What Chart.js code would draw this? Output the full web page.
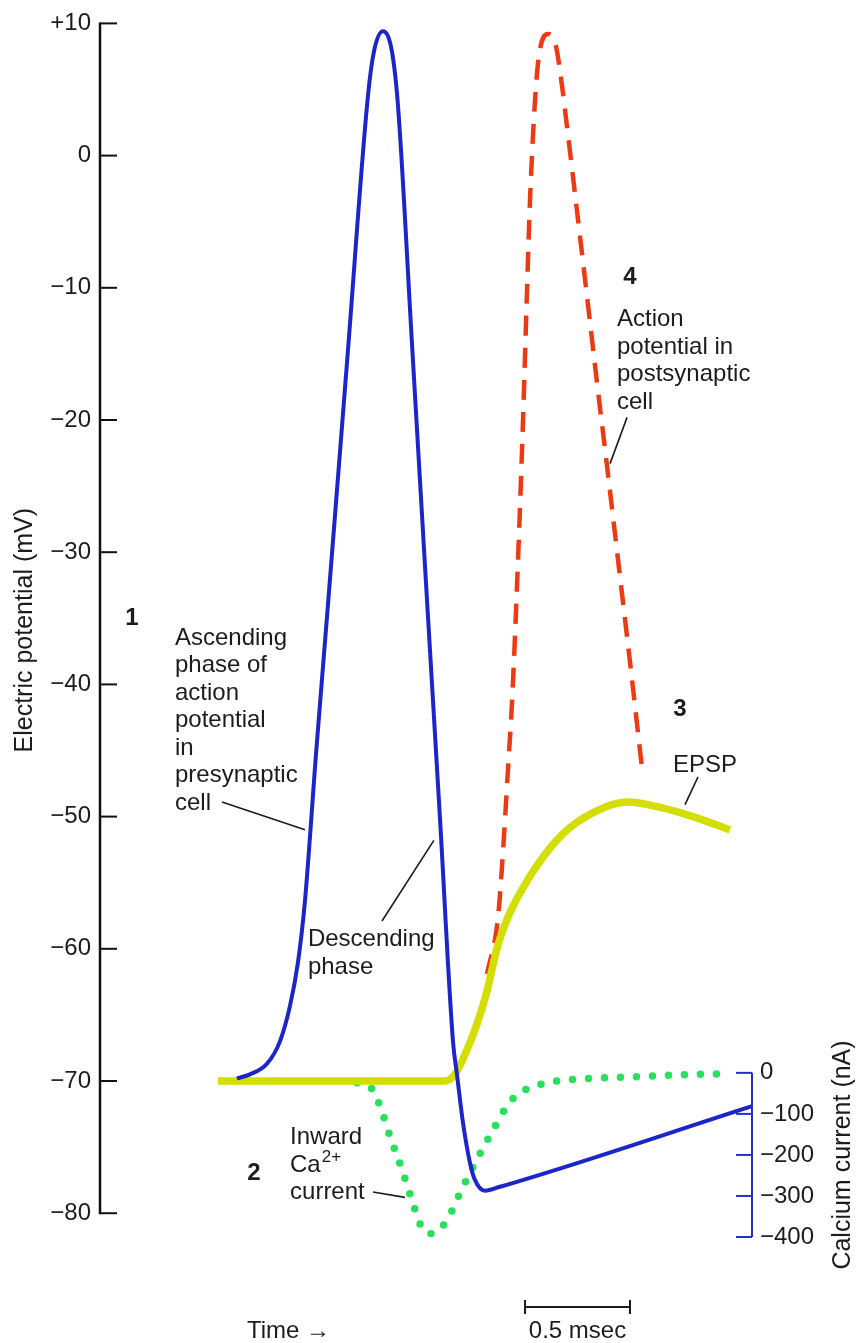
<!DOCTYPE html>
<html>
<head>
<meta charset="utf-8">
<title>Synaptic transmission</title>
<script src="https://cdn.jsdelivr.net/npm/chart.js@4.4.1/dist/chart.umd.min.js"></script>
<style>
  html, body { margin: 0; padding: 0; background: #ffffff; }
  #wrap { position: relative; width: 857px; height: 1343px; }
</style>
</head>
<body>
<div id="wrap"><canvas id="synapseChart"></canvas></div>
<script>
// time in msec, potentials in mV, calcium current in nA
const presynTime = [0.652, 0.714, 0.795, 0.857, 0.905, 0.943, 0.976, 1.029, 1.086, 1.181, 1.276, 1.305, 1.348,
                    1.390, 1.419, 1.486, 1.552, 1.619, 1.681, 1.700, 1.729, 1.762, 1.786, 1.833, 1.905, 3.105];
const presynMv = [-69.8, -69.5, -68.7, -67.0, -64.3, -61.0, -56.4, -45.2, -33.9, -14.7, 4.5, 7.9, 9.4,
                  7.9, 3.8, -14.3, -32.2, -50.1, -67.0, -69.5, -73.2, -76.2, -77.5, -78.3, -78.0, -71.9];

const epspTime = [0.562, 0.950, 1.430, 1.643, 1.690, 1.738, 1.795, 1.843, 1.890, 1.938, 1.986, 2.081, 2.205,
                  2.348, 2.510, 2.667, 2.824, 3.000];
const epspMv = [-70.0, -70.0, -70.0, -70.0, -69.5, -68.0, -65.7, -63.2, -60.0, -57.8, -56.2, -53.7, -51.3,
                -49.7, -48.9, -49.3, -50.0, -51.0];

const postsynTime = [1.843, 1.895, 1.919, 1.943, 1.962, 1.990, 2.014, 2.033, 2.048, 2.071, 2.090, 2.133,
                     2.171, 2.200, 2.224, 2.271, 2.319, 2.367, 2.414, 2.476, 2.529, 2.581];
const postsynMv = [-61.9, -57.7, -52.7, -46.4, -41.4, -30.9, -20.3, -10.5, -3.3, 4.0, 7.5, 9.2,
                   8.3, 5.3, 2.2, -4.1, -10.6, -17.2, -23.4, -31.8, -39.0, -46.3];

const calciumTime = [1.224, 1.295, 1.333, 1.381, 1.433, 1.481, 1.533, 1.567, 1.600, 1.652, 1.719, 1.790,
                     1.862, 1.933, 1.986, 2.052, 2.129, 2.286, 2.524, 2.762, 3.000];
const calciumNa = [-24, -39, -80, -155, -228, -303, -378, -392, -388, -359, -288, -216,
                   -148, -85, -53, -36, -24, -15, -10, -5, -2];

const mvTicks = [10, 0, -10, -20, -30, -40, -50, -60, -70, -80];
const mvTickLabels = ['+10', '0', '\u221210', '\u221220', '\u221230', '\u221240', '\u221250', '\u221260', '\u221270', '\u221280'];
const caTicks = [0, -100, -200, -300, -400];
const caTickLabels = ['0', '\u2212100', '\u2212200', '\u2212300', '\u2212400'];

const scaleBarStart = 2.024; // msec
const scaleBarLength = 0.5;  // msec

const FONT = '"Liberation Sans", Arial, Helvetica, sans-serif';
const INK = '#1c1c1c';

function pts(xs, ys) {
    return xs.map((x, i) => ({ x: x, y: ys[i] }));
}

// labels, placed in data units (t in msec, mv on the left axis)
const notes = [
    { t: 0.152, mv: -35.0, lines: ['1'], bold: true, align: 'center' },
    { t: 0.357, mv: -36.5, lines: ['Ascending', 'phase of', 'action', 'potential', 'in', 'presynaptic', 'cell'] },
    { t: 0.990, mv: -59.3, lines: ['Descending', 'phase'] },
    { t: 0.733, mv: -77.0, lines: ['2'], bold: true, align: 'center' },
    { t: 0.905, mv: -74.3, lines: ['Inward', 'Ca^2+', 'current'] },
    { t: 2.524, mv: -9.2, lines: ['4'], bold: true, align: 'center' },
    { t: 2.462, mv: -12.4, lines: ['Action', 'potential in', 'postsynaptic', 'cell'] },
    { t: 2.762, mv: -41.9, lines: ['3'], bold: true, align: 'center' },
    { t: 2.729, mv: -46.1, lines: ['EPSP'] }
];

const leaders = [
    [0.581, -48.9, 0.976, -51.0],
    [1.343, -57.9, 1.590, -51.8],
    [1.300, -78.4, 1.452, -78.8],
    [2.510, -19.8, 2.429, -23.3],
    [2.848, -47.0, 2.786, -49.1]
];

const overlay = {
    id: 'overlay',
    afterDatasetsDraw(chart) {
        const ctx = chart.ctx;
        const xs = chart.scales.x, ys = chart.scales.y, y1 = chart.scales.y1;
        const area = chart.chartArea;
        const px = t => xs.getPixelForValue(t);
        const py = v => ys.getPixelForValue(v);

        ctx.save();

        // left axis with inward ticks
        ctx.strokeStyle = '#111';
        ctx.lineWidth = 2.5;
        ctx.beginPath();
        ctx.moveTo(area.left, py(mvTicks[0]) - 1);
        ctx.lineTo(area.left, py(mvTicks[mvTicks.length - 1]) + 1);
        ctx.stroke();
        ctx.lineWidth = 2;
        mvTicks.forEach(v => {
            ctx.beginPath();
            ctx.moveTo(area.left, py(v));
            ctx.lineTo(area.left + 17, py(v));
            ctx.stroke();
        });

        // right (calcium) axis
        ctx.strokeStyle = '#2430c4';
        ctx.lineWidth = 2;
        ctx.beginPath();
        ctx.moveTo(area.right, y1.getPixelForValue(caTicks[0]));
        ctx.lineTo(area.right, y1.getPixelForValue(caTicks[caTicks.length - 1]));
        ctx.stroke();
        caTicks.forEach(v => {
            ctx.beginPath();
            ctx.moveTo(area.right - 16, y1.getPixelForValue(v));
            ctx.lineTo(area.right, y1.getPixelForValue(v));
            ctx.stroke();
        });

        // axis titles
        ctx.fillStyle = INK;
        ctx.font = '25px ' + FONT;
        ctx.textAlign = 'center';
        ctx.textBaseline = 'middle';
        ctx.save();
        ctx.translate(25, (area.top + area.bottom) / 2);
        ctx.rotate(-Math.PI / 2);
        ctx.fillText('Electric potential (mV)', 0, 0);
        ctx.restore();
        ctx.save();
        ctx.translate(843, 1155);
        ctx.rotate(-Math.PI / 2);
        ctx.fillText('Calcium current (nA)', 0, 0);
        ctx.restore();

        // text labels
        const lh = 27.5;
        notes.forEach(n => {
            ctx.font = (n.bold ? 'bold ' : '') + '24px ' + FONT;
            ctx.textAlign = n.align || 'left';
            n.lines.forEach((line, i) => {
                const x = px(n.t), y = py(n.mv) + i * lh;
                if (line.indexOf('^') > -1) {
                    const parts = line.split('^');
                    ctx.fillText(parts[0], x, y);
                    const w = ctx.measureText(parts[0]).width;
                    ctx.font = '17px ' + FONT;
                    ctx.fillText(parts[1], x + w + 1, y - 8);
                    ctx.font = '24px ' + FONT;
                } else {
                    ctx.fillText(line, x, y);
                }
            });
        });

        // leader lines
        ctx.strokeStyle = INK;
        ctx.lineWidth = 1.6;
        leaders.forEach(l => {
            ctx.beginPath();
            ctx.moveTo(px(l[0]), py(l[1]));
            ctx.lineTo(px(l[2]), py(l[3]));
            ctx.stroke();
        });

        // 0.5 msec scale bar and time label
        const barY = py(-87.1);
        const bx0 = px(scaleBarStart), bx1 = px(scaleBarStart + scaleBarLength);
        ctx.lineWidth = 2;
        ctx.beginPath();
        ctx.moveTo(bx0, barY); ctx.lineTo(bx1, barY);
        ctx.moveTo(bx0, barY - 7); ctx.lineTo(bx0, barY + 7);
        ctx.moveTo(bx1, barY - 7); ctx.lineTo(bx1, barY + 7);
        ctx.stroke();
        ctx.font = '24px ' + FONT;
        ctx.textAlign = 'center';
        ctx.fillText('0.5 msec', (bx0 + bx1) / 2, py(-88.95));
        ctx.textAlign = 'left';
        ctx.fillText('Time \u2192', px(0.700), py(-88.95));

        ctx.restore();
    }
};

new Chart(document.getElementById('synapseChart'), {
    type: 'line',
    data: {
        datasets: [
            {
                label: 'Presynaptic action potential',
                data: pts(presynTime, presynMv),
                borderColor: '#1b25c9',
                borderWidth: 4,
                yAxisID: 'y',
                order: 1
            },
            {
                label: 'EPSP',
                data: pts(epspTime, epspMv),
                borderColor: '#d3de05',
                borderWidth: 7.5,
                yAxisID: 'y',
                order: 2
            },
            {
                label: 'Inward Ca2+ current',
                data: pts(calciumTime, calciumNa),
                borderColor: '#27e05c',
                borderWidth: 7.5,
                borderDash: [0, 16],
                borderCapStyle: 'round',
                yAxisID: 'y1',
                order: 3
            },
            {
                label: 'Postsynaptic action potential',
                data: pts(postsynTime, postsynMv),
                borderColor: '#ee3a12',
                borderWidth: 4.5,
                borderDash: [20, 12],
                yAxisID: 'y',
                order: 4
            }
        ]
    },
    options: {
        responsive: true,
        maintainAspectRatio: false,
        animation: false,
        layout: { padding: { top: 17, bottom: 106, left: 0, right: 0 } },
        elements: {
            point: { radius: 0, hoverRadius: 0 },
            line: { cubicInterpolationMode: 'monotone', fill: false }
        },
        plugins: {
            legend: { display: false },
            tooltip: { enabled: false }
        },
        scales: {
            x: {
                type: 'linear',
                min: 0,
                max: 3.105,
                display: false
            },
            y: {
                position: 'left',
                min: -81.8,
                max: 10,
                afterFit: s => { s.width = 100; },
                afterBuildTicks: s => { s.ticks = mvTicks.map(v => ({ value: v })); },
                grid: { display: false, drawTicks: false },
                border: { display: false },
                ticks: {
                    autoSkip: false,
                    padding: 9,
                    color: INK,
                    font: { family: FONT, size: 24 },
                    callback: v => mvTickLabels[mvTicks.indexOf(v)]
                }
            },
            y1: {
                position: 'right',
                min: -400,
                max: 2557.6,
                afterFit: s => { s.width = 105; },
                afterBuildTicks: s => { s.ticks = caTicks.map(v => ({ value: v })); },
                grid: { display: false, drawTicks: false },
                border: { display: false },
                ticks: {
                    autoSkip: false,
                    padding: 8,
                    color: INK,
                    font: { family: FONT, size: 24 },
                    callback: v => caTickLabels[caTicks.indexOf(v)]
                }
            }
        }
    },
    plugins: [overlay]
});
</script>
</body>
</html>
